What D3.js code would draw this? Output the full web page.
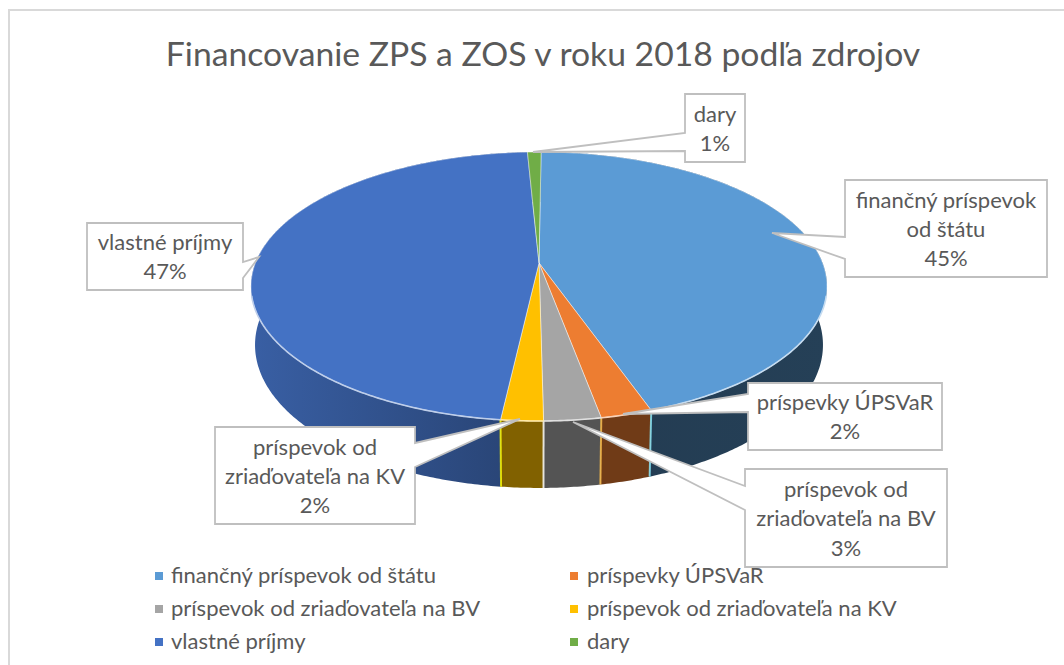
<!DOCTYPE html>
<html>
<head>
<meta charset="utf-8">
<style>
  html, body { margin: 0; padding: 0; background: #fff; }
  text { font-family: Lato, "Open Sans", sans-serif; fill: #595959; }
</style>
<script src="https://cdn.jsdelivr.net/npm/d3@7"></script>
</head>
<body>
<svg id="chart" width="1064" height="665"></svg>
<script>
  var titleText = 'Financovanie ZPS a ZOS v roku 2018 podľa zdrojov';
  var categories = [
    'finančný príspevok od štátu',
    'príspevky ÚPSVaR',
    'príspevok od zriaďovateľa na BV',
    'príspevok od zriaďovateľa na KV',
    'vlastné príjmy',
    'dary'
  ];
  var shares = [44.5, 2.45, 2.7, 2.0, 47.45, 0.9];
  var labelLines = [
    ['finančný príspevok', 'od štátu'],
    ['príspevky ÚPSVaR'],
    ['príspevok od', 'zriaďovateľa na BV'],
    ['príspevok od', 'zriaďovateľa na KV'],
    ['vlastné príjmy'],
    ['dary']
  ];
  var colors = ['#5b9bd5', '#ed7d31', '#a5a5a5', '#ffc000', '#4472c4', '#70ad47'];
  // how much each side wall is darkened, left and right end of its gradient
  var wallDark = [[2.7, 2.5], [2.1, 2.1], [1.9, 1.9], [1.9, 1.9], [0.5, 1.5], [1.5, 1.5]];

  // callout boxes: tail runs from a side of the box to the tip on the pie
  var callouts = [
    { x: 845, y: 180, w: 202, h: 97, side: 'left', a: 237, b: 259, tip: [772, 233] },
    { x: 748, y: 383, w: 194, h: 67, side: 'left', a: 394, b: 412, tip: [623, 414] },
    { x: 745, y: 469, w: 202, h: 98, side: 'left', a: 486, b: 510, tip: [573, 422] },
    { x: 215, y: 427, w: 200, h: 97, side: 'right', a: 443, b: 467, tip: [520, 419] },
    { x: 87, y: 223, w: 156, h: 67, side: 'right', a: 262, b: 278, tip: [259, 257] },
    { x: 685, y: 94, w: 60, h: 68, side: 'left', a: 133, b: 151, tip: [533, 152] }
  ];

  var svg = d3.select('#chart');
  var defs = svg.append('defs');
  var color = d3.scaleOrdinal().domain(categories).range(colors);
  var percent = d3.format('.0%');

  // chart frame, cut off by the right and bottom of the picture
  svg.append('path')
    .attr('d', 'M9,665V10H1064')
    .attr('fill', 'none')
    .attr('stroke', '#d9d9d9')
    .attr('stroke-width', 2);

  svg.append('text')
    .attr('x', 543)
    .attr('y', 66)
    .attr('text-anchor', 'middle')
    .attr('font-size', 33.7)
    .text(titleText);

  // perspective view of the disk, tilt makes the near side bigger
  var tilt = 0.1747;
  var topDisk = { cx: 539, cy: 263, a: 283.6, b: 130.4 };
  var lowDisk = { cx: 539, cy: 320, a: 279.6, b: 138.6 };

  function project(disk, angle, r) {
    var u = Math.sin(angle) * r;
    var v = Math.cos(angle) * r;
    var w = 1 + tilt * v;
    return [disk.cx + disk.a * u / w, disk.cy - disk.b * v / w];
  }
  function rim(disk, from, to) {
    var n = Math.max(2, Math.ceil((to - from) / 0.01));
    return d3.range(n + 1).map(function (i) {
      return project(disk, from + (to - from) * i / n, 1);
    });
  }

  var line = d3.line();
  var startAngle = 0.5 * Math.PI / 180;
  var slices = d3.pie().sort(null).startAngle(startAngle).endAngle(startAngle + 2 * Math.PI)(shares);

  // side walls first, the top surface hides whatever is behind
  slices.forEach(function (s, i) {
    var upper = rim(topDisk, s.startAngle, s.endAngle);
    var lower = rim(lowDisk, s.startAngle, s.endAngle);
    var xs = upper.concat(lower).map(function (p) { return p[0]; });
    var gradId = 'wall' + i;
    var grad = defs.append('linearGradient')
      .attr('id', gradId)
      .attr('gradientUnits', 'userSpaceOnUse')
      .attr('x1', d3.min(xs)).attr('x2', d3.max(xs))
      .attr('y1', 0).attr('y2', 0);
    grad.append('stop').attr('offset', 0).attr('stop-color', d3.color(colors[i]).darker(wallDark[i][0]));
    grad.append('stop').attr('offset', 1).attr('stop-color', d3.color(colors[i]).darker(wallDark[i][1]));
    svg.append('path')
      .attr('d', line(upper.concat(lower.reverse())) + 'Z')
      .attr('fill', 'url(#' + gradId + ')');
  });

  // pale seams between the slices on the near side of the wall
  slices.forEach(function (s, i) {
    if (Math.cos(s.endAngle) > -0.5) return;
    svg.append('path')
      .attr('d', line([project(topDisk, s.endAngle, 1), project(lowDisk, s.endAngle, 1)]))
      .attr('stroke', d3.color(colors[i]).brighter(1.2))
      .attr('stroke-opacity', 0.8)
      .attr('stroke-width', 2);
  });

  slices.forEach(function (s, i) {
    var pts = rim(topDisk, s.startAngle, s.endAngle);
    pts.push([topDisk.cx, topDisk.cy]);
    svg.append('path')
      .attr('d', line(pts) + 'Z')
      .attr('fill', color(categories[i]))
      .attr('stroke', '#fff')
      .attr('stroke-opacity', 0.45)
      .attr('stroke-width', 1);
  });

  // bright edge along the near rim
  var rimFrom = 104 * Math.PI / 180;
  var rimTo = 256 * Math.PI / 180;
  slices.forEach(function (s, i) {
    var from = Math.max(s.startAngle, rimFrom);
    var to = Math.min(s.endAngle, rimTo);
    if (to <= from) return;
    svg.append('path')
      .attr('d', line(rim(topDisk, from, to)))
      .attr('fill', 'none')
      .attr('stroke', d3.interpolateRgb(colors[i], '#fff')(0.65))
      .attr('stroke-width', 1.6);
  });

  // legend, two columns filled row by row, the callouts sit on top of it
  var legend = svg.selectAll('g.legend')
    .data(categories)
    .enter().append('g')
    .attr('class', 'legend')
    .attr('transform', function (d, i) {
      return 'translate(' + (i % 2 ? 570 : 155) + ',' + (576 + 33 * Math.floor(i / 2)) + ')';
    });
  legend.append('rect')
    .attr('y', -4)
    .attr('width', 8)
    .attr('height', 8)
    .attr('fill', function (d) { return color(d); });
  legend.append('text')
    .attr('x', function (d, i) { return i % 2 ? 17 : 16; })
    .attr('y', 7)
    .attr('font-size', 22)
    .text(function (d) { return d; });

  function calloutPath(c) {
    var r = c.x + c.w, b = c.y + c.h;
    var tail = function (x, y1, y2) { return 'L' + x + ',' + y1 + 'L' + c.tip[0] + ',' + c.tip[1] + 'L' + x + ',' + y2; };
    if (c.side === 'left') {
      return 'M' + r + ',' + c.y + 'L' + r + ',' + b + 'L' + c.x + ',' + b + tail(c.x, c.b, c.a) + 'L' + c.x + ',' + c.y + 'Z';
    }
    return 'M' + c.x + ',' + c.y + 'L' + r + ',' + c.y + tail(r, c.a, c.b) + 'L' + r + ',' + b + 'L' + c.x + ',' + b + 'Z';
  }

  callouts.forEach(function (c, i) {
    svg.append('path')
      .attr('d', calloutPath(c))
      .attr('fill', '#fff')
      .attr('stroke', '#bfbfbf')
      .attr('stroke-width', 1.8);
    var lines = labelLines[i].concat(percent(shares[i] / 100));
    var y0 = c.y + c.h / 2 - (lines.length - 1) * 14.5 + 8;
    lines.forEach(function (t, k) {
      svg.append('text')
        .attr('x', c.x + c.w / 2)
        .attr('y', y0 + k * 29.3)
        .attr('text-anchor', 'middle')
        .attr('font-size', 22)
        .text(t);
    });
  });
</script>
</body>
</html>
